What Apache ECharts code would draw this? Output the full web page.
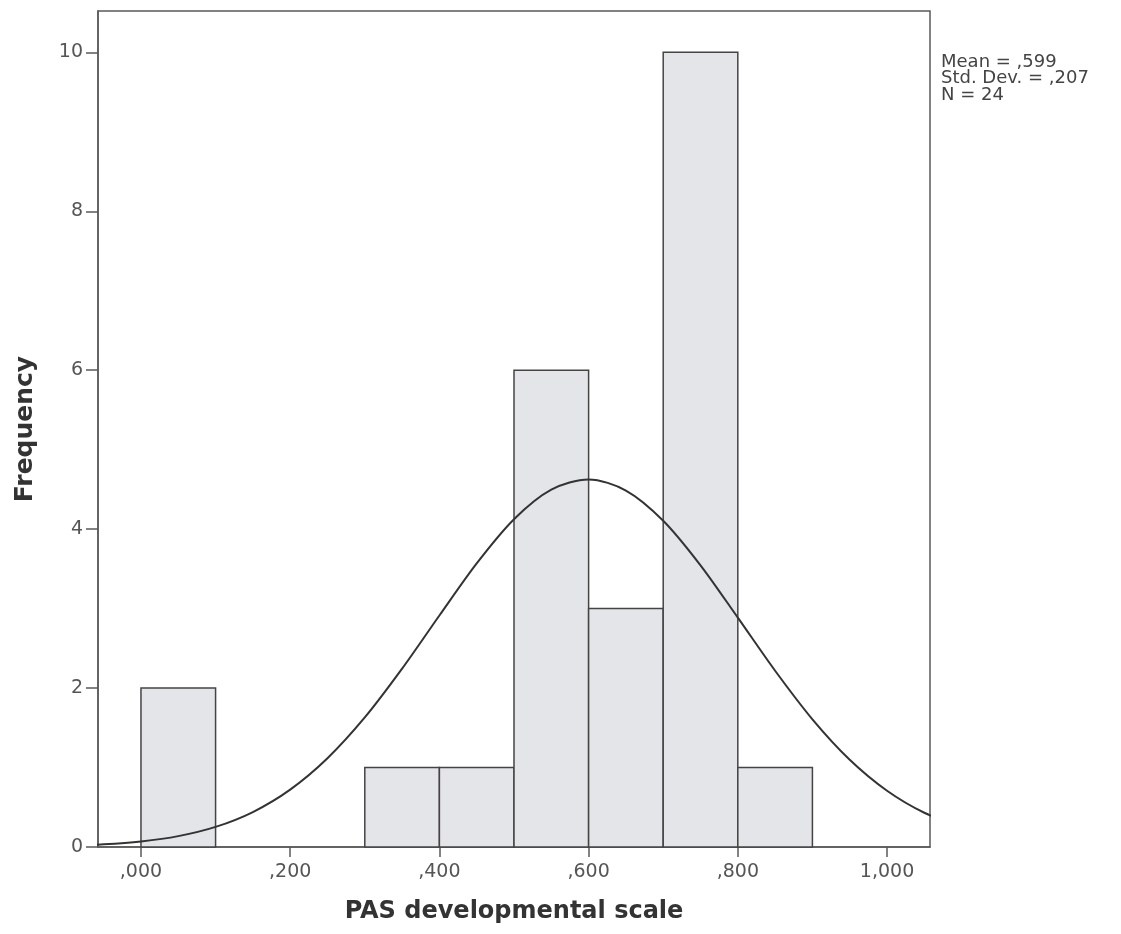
<!DOCTYPE html>
<html>
<head>
<meta charset="utf-8">
<script src="https://cdn.jsdelivr.net/npm/echarts@6/dist/echarts.min.js"></script>
<style>html,body{margin:0;padding:0;background:#fff}#c{width:1121px;height:934px}</style>
</head>
<body>
<div id="c"></div>
<script>
// Histogram bins: [start, end]
const binStarts = [0.0, 0.3, 0.4, 0.5, 0.6, 0.7, 0.8];
const binEnds   = [0.1, 0.4, 0.5, 0.6, 0.7, 0.8, 0.9];
const frequencies = [2, 1, 1, 6, 3, 10, 1];
// Normal curve points
const curveX = [-0.1, -0.05, 0.0, 0.05, 0.1, 0.15, 0.2, 0.25, 0.3, 0.35, 0.4, 0.45, 0.5, 0.55, 0.6, 0.65, 0.7, 0.75, 0.8, 0.85, 0.9, 0.95, 1.0, 1.05, 1.1];
const curveY = [0.016, 0.034, 0.070, 0.137, 0.253, 0.440, 0.722, 1.117, 1.630, 2.244, 2.913, 3.569, 4.125, 4.497, 4.625, 4.486, 4.106, 3.545, 2.886, 2.218, 1.607, 1.098, 0.708, 0.431, 0.25];
const xTickValues = [0, 0.2, 0.4, 0.6, 0.8, 1.0];
const xTickLabels = [",000", ",200", ",400", ",600", ",800", "1,000"];
const yTickValues = [0, 2, 4, 6, 8, 10];
const statsLines = ["Mean = ,599", "Std. Dev. = ,207", "N = 24"];

const chart = echarts.init(document.getElementById('c'), null, {renderer: 'canvas'});
const font = '"DejaVu Sans", sans-serif';
const axisCol = '#5a5a5a';

const option = {
  backgroundColor: '#fff',
  animation: false,
  grid: {left: 98, right: 191, top: 11, bottom: 87, show: true, borderColor: axisCol, borderWidth: 1.5, backgroundColor: 'transparent'},
  xAxis: {
    type: 'value', min: -0.0576, max: 1.0576,
    name: 'PAS developmental scale', nameLocation: 'middle', nameGap: 53,
    nameTextStyle: {fontFamily: font, fontSize: 24, fontWeight: 'bold', color: '#333'},
    splitLine: {show: false},
    axisLine: {show: true, onZero: false, lineStyle: {color: axisCol, width: 1.5}},
    axisTick: {show: true, length: 10, lineStyle: {color: axisCol, width: 1.5}, customValues: xTickValues},
    axisLabel: {
      fontFamily: font, fontSize: 19, color: '#555', margin: 16,
      customValues: xTickValues,
      formatter: function (v) { const i = xTickValues.findIndex(t => Math.abs(t - v) < 1e-6); return i >= 0 ? xTickLabels[i] : ''; }
    }
  },
  yAxis: {
    type: 'value', min: 0, max: 10.52,
    name: 'Frequency', nameLocation: 'middle', nameGap: 60, nameRotate: 90,
    nameTextStyle: {fontFamily: font, fontSize: 25, fontWeight: 'bold', color: '#333'},
    splitLine: {show: false},
    axisLine: {show: true, onZero: false, lineStyle: {color: axisCol, width: 1.5}},
    axisTick: {show: true, length: 12, lineStyle: {color: axisCol, width: 1.5}, customValues: yTickValues},
    axisLabel: {fontFamily: font, fontSize: 19, color: '#555', margin: 15, customValues: yTickValues}
  },
  series: [
    {
      type: 'custom',
      data: binStarts.map((s, i) => [s, binEnds[i], frequencies[i]]),
      renderItem: function (params, api) {
        const p0 = api.coord([api.value(0), api.value(2)]);
        const p1 = api.coord([api.value(1), 0]);
        return {
          type: 'rect',
          shape: {x: p0[0], y: p0[1], width: p1[0] - p0[0], height: p1[1] - p0[1]},
          style: {fill: '#e4e5e8', stroke: '#444', lineWidth: 1.5}
        };
      },
      z: 2
    },
    {
      type: 'line',
      data: curveX.map((x, i) => [x, curveY[i]]),
      smooth: 0.3, showSymbol: false, symbol: 'none',
      lineStyle: {color: '#333', width: 2},
      clip: true,
      z: 3
    }
  ],
  graphic: statsLines.map((t, i) => ({
    type: 'text', left: 941, top: 53 + i * 16.5,
    style: {text: t, fontFamily: font, fontSize: 18, fill: '#444'}
  }))
};
chart.setOption(option);
</script>
</body>
</html>
